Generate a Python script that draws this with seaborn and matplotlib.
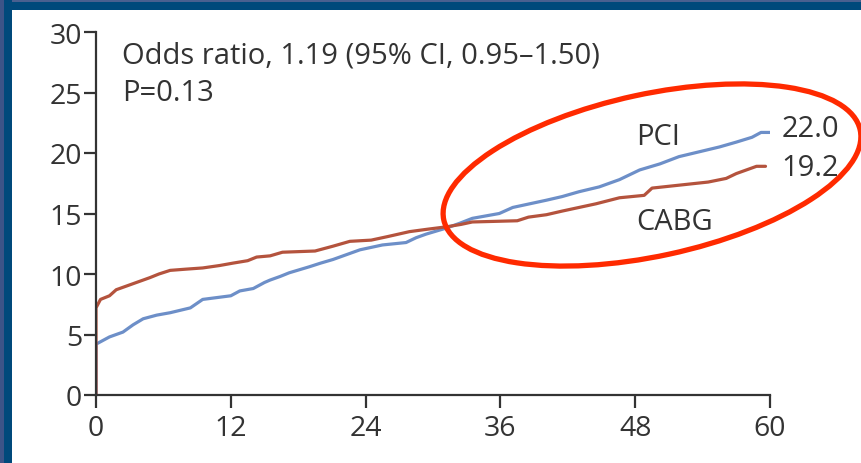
import matplotlib
matplotlib.use("Agg")
import matplotlib.pyplot as plt
import matplotlib.patches as mpatches
import matplotlib.transforms as mtransforms
import seaborn as sns
import pandas as pd

# ---- data (months, cumulative event rate %) ----
pci_months = [0, 0, 0.4, 1.2, 2.4, 3.3, 4.2, 5.4, 6.6, 7.5, 8.4, 9.5, 12.0, 12.8, 14.0, 15.0,
              15.5, 16.4, 17.2, 19.0, 20.0, 21.1, 22.3, 23.5, 25.5, 27.6, 28.5, 29.4, 31.2,
              32.4, 33.5, 35.9, 37.1, 38.6, 40.1, 41.5, 43.0, 44.8, 46.6, 47.5, 48.4, 50.2,
              51.9, 53.7, 55.5, 57.0, 58.4, 59.2, 60]
pci_rate = [0, 4.2, 4.4, 4.8, 5.2, 5.8, 6.3, 6.6, 6.8, 7.0, 7.2, 7.9, 8.2, 8.6, 8.8, 9.3,
            9.5, 9.8, 10.1, 10.6, 10.9, 11.2, 11.6, 12.0, 12.4, 12.6, 13.0, 13.3, 13.8,
            14.2, 14.6, 15.0, 15.5, 15.8, 16.1, 16.4, 16.8, 17.2, 17.8, 18.2, 18.6, 19.1,
            19.7, 20.1, 20.5, 20.9, 21.3, 21.7, 21.7]

cabg_months = [0, 0, 0.4, 1.2, 1.8, 3.0, 3.6, 4.8, 5.6, 6.6, 8.0, 9.5, 11.0, 12.2, 13.5,
               14.3, 15.5, 16.6, 19.5, 21.1, 22.6, 24.5, 26.0, 27.9, 29.5, 31.2, 32.5, 33.5,
               37.5, 38.5, 40.1, 41.5, 43.0, 44.5, 46.6, 48.8, 49.5, 52.5, 54.5, 56.1, 57.0,
               57.9, 58.8, 59.6]
cabg_rate = [0, 7.2, 7.9, 8.2, 8.7, 9.1, 9.3, 9.7, 10.0, 10.3, 10.4, 10.5, 10.7, 10.9, 11.1,
             11.4, 11.5, 11.8, 11.9, 12.3, 12.7, 12.8, 13.1, 13.5, 13.7, 13.9, 14.1, 14.3,
             14.4, 14.7, 14.9, 15.2, 15.5, 15.8, 16.3, 16.5, 17.1, 17.4, 17.6, 17.9, 18.3,
             18.6, 18.9, 18.9]

x_ticks = [0, 12, 24, 36, 48, 60]
y_ticks = [0, 5, 10, 15, 20, 25, 30]
end_labels = ["22.0", "19.2"]
series_names = ["PCI", "CABG"]
stat_lines = ["Odds ratio, 1.19 (95% CI, 0.95\u20131.50)", "P=0.13"]

pci_color = "#6d8fc8"
cabg_color = "#b4533d"
text_color = "#333333"

sns.set_theme(style="ticks")
plt.rcParams["font.family"] = ["Open Sans", "DejaVu Sans"]

fig = plt.figure(figsize=(8.61, 4.64), dpi=100)
fig.patch.set_facecolor("white")
W, H = 861, 464
ax = fig.add_axes([96 / W, (H - 396) / H, (770 - 96) / W, (396 - 33) / H])
ax.set_facecolor("white")

df_pci = pd.DataFrame({"month": pci_months, "rate": pci_rate})
df_cabg = pd.DataFrame({"month": cabg_months, "rate": cabg_rate})
sns.lineplot(data=df_pci, x="month", y="rate", ax=ax, color=pci_color, lw=2.3,
             sort=False, estimator=None)
sns.lineplot(data=df_cabg, x="month", y="rate", ax=ax, color=cabg_color, lw=2.3,
             sort=False, estimator=None)

ax.set_xlim(0, 60)
ax.set_ylim(0, 30)
ax.set_xticks(x_ticks)
ax.set_yticks(y_ticks)
ax.set_xlabel("")
ax.set_ylabel("")
for s in ["top", "right"]:
    ax.spines[s].set_visible(False)
for s in ["left", "bottom"]:
    ax.spines[s].set_color(text_color)
    ax.spines[s].set_linewidth(1.6)
ax.tick_params(axis="both", direction="out", length=9, width=1.6, color=text_color,
               labelsize=20.5, labelcolor=text_color, pad=1)
ax.tick_params(axis="x", pad=5)

fs = 21
ax.text(2.3, 28.1, stat_lines[0], fontsize=fs, color=text_color, ha="left", va="center")
ax.text(2.3, 25.0, stat_lines[1], fontsize=fs, color=text_color, ha="left", va="center")
ax.text(50.0, 21.4, series_names[0], fontsize=fs, color=text_color, ha="center", va="center")
ax.text(51.5, 14.3, series_names[1], fontsize=fs, color=text_color, ha="center", va="center")
ax.text(61.0, pci_rate[-1] + 0.3, end_labels[0], fontsize=fs, color=text_color,
        ha="left", va="center", clip_on=False)
ax.text(61.0, cabg_rate[-1] - 0.1, end_labels[1], fontsize=fs, color=text_color,
        ha="left", va="center", clip_on=False)

# red highlight ellipse (pixel coordinates)
ident = mtransforms.IdentityTransform()
ell = mpatches.Ellipse((652, H - 176), width=426, height=162, angle=12.2,
                       fill=False, edgecolor="#ff2a00", lw=3.8, transform=ident)
fig.patches.append(ell)

# frame (top and left bands)
fig.patches.append(mpatches.Rectangle((0, H - 11), W, 11, transform=ident,
                                      facecolor="#00497b", edgecolor="none"))
fig.patches.append(mpatches.Rectangle((0, H - 3), W, 3, transform=ident,
                                      facecolor="#4a6090", edgecolor="none"))
fig.patches.append(mpatches.Rectangle((0, 0), 12, H, transform=ident,
                                      facecolor="#00497b", edgecolor="none"))
fig.patches.append(mpatches.Rectangle((0, 0), 4, H, transform=ident,
                                      facecolor="#3c5488", edgecolor="none"))

fig.savefig("out.png", dpi=100, facecolor="white")
